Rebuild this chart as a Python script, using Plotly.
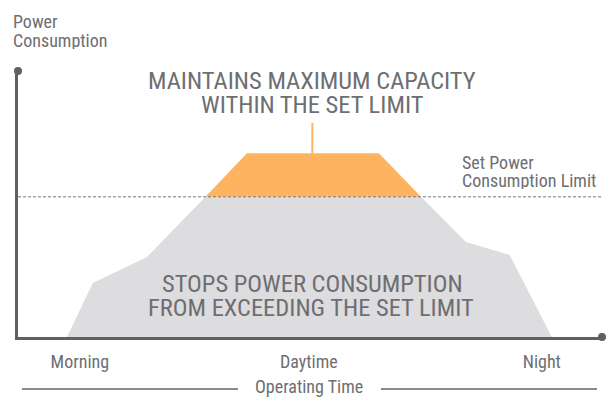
import plotly.graph_objects as go

# ---- data (time 0-100 along the x axis, power 0-100 along the y axis) ----
limit_power = 52.7

gray_time = [8.4, 12.8, 22.1, 32.1, 69.0, 76.7, 84.2, 91.4]
gray_power = [0, 20.3, 30.1, 52.7, 52.7, 35.7, 30.8, 0]

orange_time = [32.1, 39.2, 61.8, 69.0]
orange_power = [52.7, 69.1, 69.1, 52.7]

pointer_time = [50.4, 50.4]
pointer_power = [69.1, 80.5]

tick_vals = [10.6, 49.8, 89.7]
tick_text = ["Morning", "Daytime", "Night"]

# ---- styles ----
FONT = "Roboto Condensed, Roboto, sans-serif"
TXT = "#6d6e72"
AXIS = "#5f6064"
GRAY = "#dddcdf"
ORANGE = "#fdb35f"

W, H = 611, 400
L, R, T, B = 18, 602, 71, 337  # plot area in pixels


def px(x):
    return (x - L) / (R - L)


def py(y):
    return (B - y) / (B - T)


fig = go.Figure()

fig.add_trace(go.Scatter(x=gray_time, y=gray_power, fill="toself", fillcolor=GRAY,
                         mode="lines", line=dict(width=0, color=GRAY), hoverinfo="skip"))
fig.add_trace(go.Scatter(x=orange_time, y=orange_power, fill="toself", fillcolor=ORANGE,
                         mode="lines", line=dict(width=0, color=ORANGE), hoverinfo="skip"))
fig.add_trace(go.Scatter(x=pointer_time, y=pointer_power, mode="lines",
                         line=dict(width=2, color=ORANGE), hoverinfo="skip"))
fig.add_trace(go.Scatter(x=[0, 100], y=[limit_power, limit_power], mode="lines",
                         line=dict(width=1, color="#76767a", dash="3px,2px"), hoverinfo="skip"))
# axis end dots
fig.add_trace(go.Scatter(x=[0, 100], y=[100, 0], mode="markers", cliponaxis=False,
                         marker=dict(size=8, color=AXIS), hoverinfo="skip"))


def ann(text, x, y, size, xanchor="center", h=None):
    fig.add_annotation(text=text, x=px(x), y=py(y), xref="paper", yref="paper",
                       xanchor=xanchor, yanchor="middle", showarrow=False,
                       height=h, valign="middle",
                       font=dict(family=FONT, size=size, color=TXT))


ann("MAINTAINS MAXIMUM CAPACITY", 312, 80, 24.5, h=23)
ann("WITHIN THE SET LIMIT", 312, 104, 24.5, h=23)
ann("STOPS POWER CONSUMPTION", 312, 283, 24.5, h=23)
ann("FROM EXCEEDING THE SET LIMIT", 311, 307.5, 24.5, h=23)
ann("Power", 11, 21, 18, "left", h=18)
ann("Consumption", 11, 40, 18, "left", h=18)
ann("Set Power", 460, 162, 18, "left", h=17)
ann("Consumption Limit", 460, 180, 18, "left", h=17)
ann("Operating Time", 309, 386, 18)

# lines either side of the x-axis title
for x0, x1 in [(22, 238), (381, 597)]:
    fig.add_shape(type="line", xref="paper", yref="paper", x0=px(x0), x1=px(x1),
                  y0=py(389), y1=py(389), line=dict(color="#8a8b8e", width=2))

fig.update_xaxes(range=[0, 100], showgrid=False, zeroline=False, showline=True,
                 linecolor=AXIS, linewidth=3, tickvals=tick_vals, ticktext=tick_text,
                 ticks="", ticklabelstandoff=6,
                 tickfont=dict(family=FONT, size=18, color=TXT))
fig.update_yaxes(range=[0, 100], showgrid=False, zeroline=False, showline=True,
                 linecolor=AXIS, linewidth=3, showticklabels=False, ticks="")

fig.update_layout(width=W, height=H, margin=dict(l=L, r=W - R, t=T, b=H - B),
                  paper_bgcolor="white", plot_bgcolor="white", showlegend=False)

fig.write_html("out.html", config={"displayModeBar": False},
               post_script="document.body.style.margin='0';")
